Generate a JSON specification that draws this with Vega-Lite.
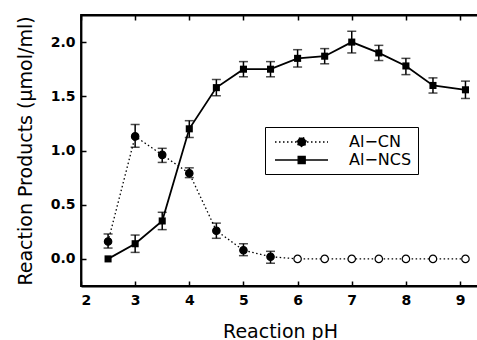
{
  "$schema": "https://vega.github.io/schema/vega-lite/v6.json",
  "width": 398,
  "height": 271,
  "autosize": {"type": "none"},
  "padding": {"left": 81, "top": 15, "right": 0, "bottom": 54},
  "background": "white",
  "data": {
    "values": [
      {"pH": 2.5, "series": "Al−CN", "value": 0.16, "lo": 0.10, "hi": 0.23, "hollow": false},
      {"pH": 3.0, "series": "Al−CN", "value": 1.13, "lo": 1.03, "hi": 1.24, "hollow": false},
      {"pH": 3.5, "series": "Al−CN", "value": 0.96, "lo": 0.89, "hi": 1.02, "hollow": false},
      {"pH": 4.0, "series": "Al−CN", "value": 0.79, "lo": 0.75, "hi": 0.84, "hollow": false},
      {"pH": 4.5, "series": "Al−CN", "value": 0.26, "lo": 0.19, "hi": 0.33, "hollow": false},
      {"pH": 5.0, "series": "Al−CN", "value": 0.08, "lo": 0.03, "hi": 0.14, "hollow": false},
      {"pH": 5.5, "series": "Al−CN", "value": 0.02, "lo": -0.04, "hi": 0.07, "hollow": false},
      {"pH": 6.0, "series": "Al−CN", "value": 0.0, "lo": null, "hi": null, "hollow": true},
      {"pH": 6.5, "series": "Al−CN", "value": 0.0, "lo": null, "hi": null, "hollow": true},
      {"pH": 7.0, "series": "Al−CN", "value": 0.0, "lo": null, "hi": null, "hollow": true},
      {"pH": 7.5, "series": "Al−CN", "value": 0.0, "lo": null, "hi": null, "hollow": true},
      {"pH": 8.0, "series": "Al−CN", "value": 0.0, "lo": null, "hi": null, "hollow": true},
      {"pH": 8.5, "series": "Al−CN", "value": 0.0, "lo": null, "hi": null, "hollow": true},
      {"pH": 9.1, "series": "Al−CN", "value": 0.0, "lo": null, "hi": null, "hollow": true},
      {"pH": 2.5, "series": "Al−NCS", "value": 0.0, "lo": null, "hi": null, "hollow": false},
      {"pH": 3.0, "series": "Al−NCS", "value": 0.14, "lo": 0.06, "hi": 0.22, "hollow": false},
      {"pH": 3.5, "series": "Al−NCS", "value": 0.35, "lo": 0.27, "hi": 0.43, "hollow": false},
      {"pH": 4.0, "series": "Al−NCS", "value": 1.2, "lo": 1.12, "hi": 1.275, "hollow": false},
      {"pH": 4.5, "series": "Al−NCS", "value": 1.58, "lo": 1.505, "hi": 1.655, "hollow": false},
      {"pH": 5.0, "series": "Al−NCS", "value": 1.75, "lo": 1.68, "hi": 1.82, "hollow": false},
      {"pH": 5.5, "series": "Al−NCS", "value": 1.75, "lo": 1.68, "hi": 1.82, "hollow": false},
      {"pH": 6.0, "series": "Al−NCS", "value": 1.85, "lo": 1.77, "hi": 1.93, "hollow": false},
      {"pH": 6.5, "series": "Al−NCS", "value": 1.87, "lo": 1.8, "hi": 1.94, "hollow": false},
      {"pH": 7.0, "series": "Al−NCS", "value": 2.0, "lo": 1.9, "hi": 2.1, "hollow": false},
      {"pH": 7.5, "series": "Al−NCS", "value": 1.9, "lo": 1.83, "hi": 1.97, "hollow": false},
      {"pH": 8.0, "series": "Al−NCS", "value": 1.78, "lo": 1.7, "hi": 1.85, "hollow": false},
      {"pH": 8.5, "series": "Al−NCS", "value": 1.6, "lo": 1.53, "hi": 1.67, "hollow": false},
      {"pH": 9.1, "series": "Al−NCS", "value": 1.56, "lo": 1.48, "hi": 1.64, "hollow": false}
    ]
  },
  "layer": [
    {
      "transform": [{"filter": "datum.series === 'Al−CN'"}],
      "mark": {"type": "line", "color": "black", "strokeWidth": 1.3, "strokeDash": [1.5, 2.5]},
      "encoding": {
        "x": {"field": "pH", "type": "quantitative", "scale": {"domain": [2, 9.35], "nice": false, "zero": false},
              "axis": {"title": "Reaction pH", "values": [2, 3, 4, 5, 6, 7, 8, 9], "format": "d", "orient": "bottom", "labelPadding": 12, "titlePadding": 15}},
        "y": {"field": "value", "type": "quantitative", "scale": {"domain": [-0.25, 2.25], "nice": false, "zero": false},
              "title": "Reaction Products (μmol/ml)",
              "axis": {"values": [0, 0.5, 1, 1.5, 2], "format": ".1f", "labelPadding": 11, "titlePadding": 15}}
      }
    },
    {
      "transform": [{"filter": "datum.series === 'Al−NCS'"}],
      "mark": {"type": "line", "color": "black", "strokeWidth": 1.8},
      "encoding": {
        "x": {"field": "pH", "type": "quantitative", "axis": null},
        "y": {"field": "value", "type": "quantitative", "title": "Reaction Products (μmol/ml)"}
      }
    },
    {
      "transform": [{"filter": "isValid(datum.lo)"}],
      "mark": {"type": "errorbar", "color": "black", "thickness": 1.5, "ticks": {"size": 9}},
      "encoding": {
        "x": {"field": "pH", "type": "quantitative", "axis": null},
        "y": {"field": "lo", "type": "quantitative", "title": "Reaction Products (μmol/ml)"},
        "y2": {"field": "hi"}
      }
    },
    {
      "transform": [{"filter": "datum.series === 'Al−CN'"}],
      "mark": {"type": "point", "shape": "circle", "filled": true, "size": 55, "stroke": "black", "strokeWidth": 1.2, "opacity": 1},
      "encoding": {
        "x": {"field": "pH", "type": "quantitative", "axis": null},
        "y": {"field": "value", "type": "quantitative", "title": "Reaction Products (μmol/ml)"},
        "fill": {"condition": {"test": "datum.hollow", "value": "white"}, "value": "black"}
      }
    },
    {
      "transform": [{"filter": "datum.series === 'Al−NCS'"}],
      "mark": {"type": "point", "shape": "square", "filled": true, "size": 50, "color": "black", "opacity": 1},
      "encoding": {
        "x": {"field": "pH", "type": "quantitative",
              "axis": {"orient": "top", "labels": false, "title": "", "values": [2, 3, 4, 5, 6, 7, 8, 9], "domain": true, "ticks": true}},
        "y": {"field": "value", "type": "quantitative", "title": "Reaction Products (μmol/ml)"}
      }
    },
    {
      "transform": [{"filter": "false"}],
      "mark": {"type": "point", "filled": true, "opacity": 1},
      "encoding": {
        "fill": {"value": "black"},
        "stroke": {"value": "black"},
        "strokeWidth": {"value": 1.3},
        "shape": {"field": "series", "type": "nominal",
                  "scale": {"domain": ["Al−CN", "Al−NCS"],
                            "range": ["M-0.625,0L6,0M2.15,0A0.56,0.56,0,1,1,3.27,0A0.56,0.56,0,1,1,2.15,0Z",
                                      "M-0.625,0L6,0M2.27,-0.44L3.15,-0.44L3.15,0.44L2.27,0.44Z"]},
                  "legend": {"title": null}},
        "strokeDash": {"field": "series", "type": "nominal",
                       "scale": {"domain": ["Al−CN", "Al−NCS"], "range": [[1.5, 2.5], [1, 0]]},
                       "legend": {"title": null}}
      }
    }
  ],
  "resolve": {"axis": {"x": "independent"}},
  "config": {
    "view": {"stroke": "black", "strokeWidth": 1.8},
    "axis": {
      "grid": false,
      "domainColor": "black",
      "domainWidth": 1.8,
      "tickColor": "black",
      "tickWidth": 1.5,
      "tickSize": -5,
      "labelFont": "DejaVu Sans",
      "labelFontWeight": "bold",
      "labelFontSize": 14,
      "labelColor": "black",
      "titleFont": "DejaVu Sans",
      "titleFontWeight": "normal",
      "titleFontSize": 19,
      "titleColor": "black"
    },
    "legend": {
      "orient": "none",
      "legendX": 184,
      "legendY": 112,
      "strokeColor": "black",
      "padding": 6,
      "rowPadding": 1,
      "symbolSize": 256,
      "symbolStrokeWidth": 1.3,
      "labelFont": "DejaVu Sans",
      "labelFontSize": 16,
      "labelColor": "black",
      "labelOffset": 60
    }
  }
}
